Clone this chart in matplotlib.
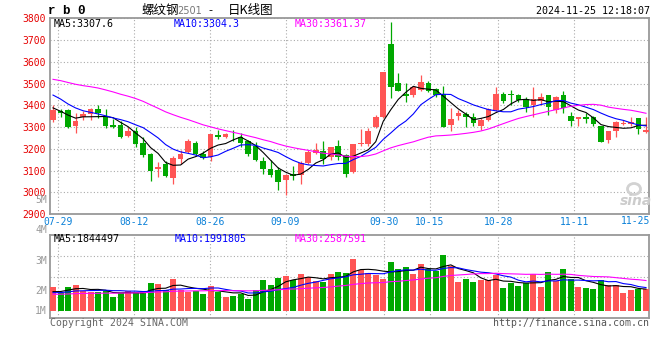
import numpy as np
import pandas as pd
import matplotlib.pyplot as plt
from matplotlib.patches import Ellipse

# rb0 daily bars, 07-26 .. 11-25
opens = [3330, 3375, 3378, 3305, 3348, 3362, 3385, 3351, 3311, 3308,
         3259, 3283, 3228, 3175, 3108, 3130, 3065, 3154, 3186, 3225,
         3175, 3160, 3263, 3252, 3260, 3252, 3235, 3215, 3143, 3109,
         3102, 3055, 3083, 3079, 3135, 3182, 3189, 3160, 3212, 3170,
         3095, 3222, 3220, 3302, 3348, 3680, 3501, 3450, 3447, 3470,
         3501, 3475, 3450, 3309, 3351, 3360, 3344, 3305, 3332, 3378,
         3452, 3452, 3446, 3427, 3403, 3421, 3447, 3378, 3447, 3351,
         3335, 3344, 3344, 3305, 3240, 3283, 3314, 3312, 3340, 3276]
highs = [3402, 3382, 3382, 3366, 3375, 3388, 3403, 3382, 3335, 3329,
         3302, 3302, 3252, 3181, 3140, 3145, 3166, 3194, 3243, 3237,
         3188, 3270, 3286, 3271, 3285, 3274, 3242, 3232, 3160, 3148,
         3117, 3083, 3120, 3145, 3194, 3225, 3235, 3209, 3240, 3175,
         3222, 3291, 3297, 3355, 3555, 3784, 3547, 3501, 3490, 3539,
         3510, 3480, 3489, 3386, 3378, 3371, 3363, 3340, 3386, 3486,
         3463, 3470, 3452, 3436, 3486, 3458, 3447, 3443, 3467, 3371,
         3344, 3363, 3351, 3305, 3283, 3329, 3332, 3344, 3340, 3344]
lows = [3325, 3345, 3294, 3271, 3330, 3330, 3340, 3294, 3294, 3248,
        3252, 3206, 3160, 3052, 3068, 3072, 3037, 3132, 3182, 3166,
        3154, 3145, 3243, 3248, 3235, 3209, 3165, 3145, 3083, 3071,
        3009, 2986, 3055, 3037, 3132, 3175, 3132, 3148, 3148, 3071,
        3087, 3214, 3214, 3297, 3343, 3435, 3465, 3414, 3440, 3466,
        3460, 3440, 3300, 3282, 3332, 3302, 3305, 3286, 3329, 3375,
        3409, 3401, 3417, 3371, 3348, 3401, 3355, 3363, 3363, 3305,
        3305, 3320, 3305, 3230, 3225, 3256, 3310, 3305, 3268, 3274]
closes = [3380, 3363, 3302, 3329, 3360, 3382, 3366, 3305, 3302, 3252,
          3283, 3222, 3171, 3099, 3118, 3075, 3157, 3178, 3234, 3175,
          3157, 3268, 3252, 3268, 3258, 3225, 3175, 3148, 3108, 3079,
          3048, 3079, 3077, 3135, 3186, 3194, 3155, 3209, 3160, 3083,
          3222, 3228, 3282, 3348, 3554, 3486, 3466, 3444, 3486, 3508,
          3466, 3447, 3302, 3338, 3363, 3348, 3317, 3332, 3381, 3452,
          3421, 3446, 3424, 3394, 3427, 3440, 3394, 3437, 3386, 3329,
          3344, 3338, 3312, 3233, 3283, 3325, 3318, 3322, 3289, 3288]
# volume, millions
volumes = [2.05, 1.54, 2.05, 2.19, 1.68, 1.60, 1.60, 1.68, 1.20, 1.54,
           1.68, 1.54, 1.63, 2.39, 2.28, 1.77, 2.71, 1.77, 1.63, 1.68,
           1.43, 2.11, 1.63, 1.20, 1.25, 1.43, 1.02, 1.77, 2.62, 2.19,
           2.79, 2.97, 2.62, 3.13, 2.85, 2.51, 2.49, 3.13, 3.30, 3.24,
           4.44, 3.47, 3.24, 3.04, 2.71, 4.16, 3.56, 3.73, 3.13, 4.02,
           3.56, 3.42, 4.76, 3.82, 2.45, 2.71, 2.45, 2.62, 2.62, 3.04,
           1.93, 2.34, 2.11, 2.39, 3.13, 2.02, 3.30, 2.56, 3.59, 2.74,
           1.99, 1.93, 1.85, 2.62, 2.16, 2.16, 1.54, 1.77, 1.88, 1.88]
# sessions before 07-26, estimated from where the MA lines start
prior_closes = [3540, 3560, 3575, 3550, 3530, 3545, 3565, 3580, 3570, 3555,
                3540, 3560, 3585, 3590, 3570, 3550, 3540, 3555, 3530, 3520,
                3545, 3530, 3510, 3490, 3455, 3440, 3390, 3400, 3330]
prior_volumes = [1.25, 1.40, 1.30, 1.20, 1.35, 1.45, 1.30, 1.25, 1.40, 1.35,
                 1.30, 1.20, 1.45, 1.35, 1.30, 1.40, 1.25, 1.35, 1.30, 1.40,
                 1.45, 1.50, 1.35, 1.55, 1.40, 1.50, 1.45, 1.60, 1.55]

tick_labels = ['07-29', '08-12', '08-26', '09-09', '09-30', '10-15', '10-28', '11-11']
tick_bars = [1, 11, 21, 31, 44, 50, 59, 69]
last_label = '11-25'

price_ma_text = ['MA5:3307.6', 'MA10:3304.3', 'MA30:3361.37']
vol_ma_text = ['MA5:1844497', 'MA10:1991805', 'MA30:2587591']
vol_axis_labels = ['5M', '4M', '3M', '2M', '1M']

RED = '#ff5555'
GREEN = '#00a800'
MA_COLORS = ['black', '#0000ff', '#ff00ff']
MONO = 'DejaVu Sans Mono'
plt.rcParams['font.family'] = [MONO]

W, H = 660, 360
fig = plt.figure(figsize=(6.6, 3.6), dpi=100)


def fx(px):
    return px / W


def fy(py):
    return 1 - py / H


ax = fig.add_axes([fx(50), fy(214), fx(649) - fx(50), fy(18.3) - fy(214)])
axv = fig.add_axes([fx(50), fy(318), fx(649) - fx(50), fy(235) - fy(318)])

x = np.arange(len(closes))
o = np.array(opens)
c = np.array(closes)
hi = np.array(highs)
lo = np.array(lows)
v = np.array(volumes)
cols = np.where(c >= o, RED, GREEN)

# candles
ax.vlines(x, lo, hi, colors=cols, lw=0.9, zorder=3)
ax.bar(x, np.maximum(np.abs(c - o), 2.5), bottom=np.minimum(o, c),
       width=0.75, color=cols, linewidth=0, zorder=3)

allc = pd.Series(prior_closes + closes)
allv = pd.Series(prior_volumes + volumes)
n0 = len(prior_closes)
for n, col in zip([5, 10, 30], MA_COLORS):
    ax.plot(x, allc.rolling(n).mean().values[n0:], color=col, lw=0.8, zorder=4)
    axv.plot(x, allv.rolling(n).mean().values[n0:], color=col, lw=0.8, zorder=4)

axv.bar(x, v, width=0.8, color=cols, linewidth=0, zorder=3)

# sina's date grid drifts slightly against the bars
grid_pos = [1.0123 * i - 0.4 for i in tick_bars]
grid_style = dict(color='#aaaaaa', linestyle=(0, (1, 2)), linewidth=0.8)

ax.set_xlim(-0.4, 79.4)
ax.set_ylim(2900, 3800)
ax.set_yticks(range(2900, 3801, 100))
ax.set_xticks(grid_pos, tick_labels)
ax.tick_params(axis='y', length=0, pad=3, labelcolor='#e60000', labelsize=7)
ax.tick_params(axis='x', length=0, pad=2, labelcolor='#0a80d8', labelsize=7)
ax.grid(True, **grid_style)

vb, vt = -0.624, 6.47
axv.set_xlim(-0.4, 79.4)
axv.set_ylim(vb, vt)
axv.set_yticks([vb + f * (vt - vb) for f in (0.25, 0.5, 0.75)])
axv.set_xticks(grid_pos)
axv.tick_params(length=0, labelleft=False, labelbottom=False)
axv.grid(True, **grid_style)

for a in (ax, axv):
    for s in a.spines.values():
        s.set_color('#999999')
        s.set_linewidth(1.3)
    a.set_axisbelow(True)

fig.text(fx(650), fy(221), last_label, ha='right', va='center', color='#0a80d8', size=7)

# header
fig.text(fx(48), fy(11.5), 'r b 0', family='Liberation Mono', weight='bold', size=9,
         va='center')
fig.text(fx(141.5), fy(10.5), '螺纹钢', family=['Noto Sans CJK SC'], size=9, va='center')
fig.text(fx(177), fy(11), '2501', family='DejaVu Sans', size=7, color='#777777', va='center')
fig.text(fx(210.5), fy(10.5), '-', family='DejaVu Sans', size=8, ha='center', va='center')
fig.text(fx(227.5), fy(10.5), '日K线图', family=['Noto Sans CJK SC'], size=9, va='center')
fig.text(fx(649.5), fy(11.5), '2024-11-25 12:18:07', ha='right', va='center', size=7.2)

for txt, col, px in zip(price_ma_text, MA_COLORS, [54, 174, 295]):
    fig.text(fx(px), fy(24), txt, color=col, size=7.2, va='center')
for txt, col, px in zip(vol_ma_text, MA_COLORS, [54, 175, 295]):
    fig.text(fx(px), fy(238.5), txt, color=col, size=7.2, va='center')

for txt, py in zip(vol_axis_labels, [200, 230, 260.7, 291, 310.7]):
    fig.text(fx(47), fy(py), txt, color='#999999', size=7, ha='right', va='center')

fig.text(fx(50), fy(323.5), 'Copyright 2024 SINA.COM', color='#666666', size=7.1, va='center')
fig.text(fx(649.5), fy(323.5), 'http://finance.sina.com.cn', color='#555555', size=7.1,
         ha='right', va='center')

# watermark
fig.patches.append(Ellipse((fx(634), fy(189)), fx(13), 11 / H, fill=False,
                           edgecolor='#d2d2d2', lw=2, transform=fig.transFigure))
fig.text(fx(636), fy(201), 'sina', family='DejaVu Sans', style='italic', weight='bold',
         size=10, color='#cccccc', ha='center', va='center')

fig.savefig('out.png', dpi=100)
